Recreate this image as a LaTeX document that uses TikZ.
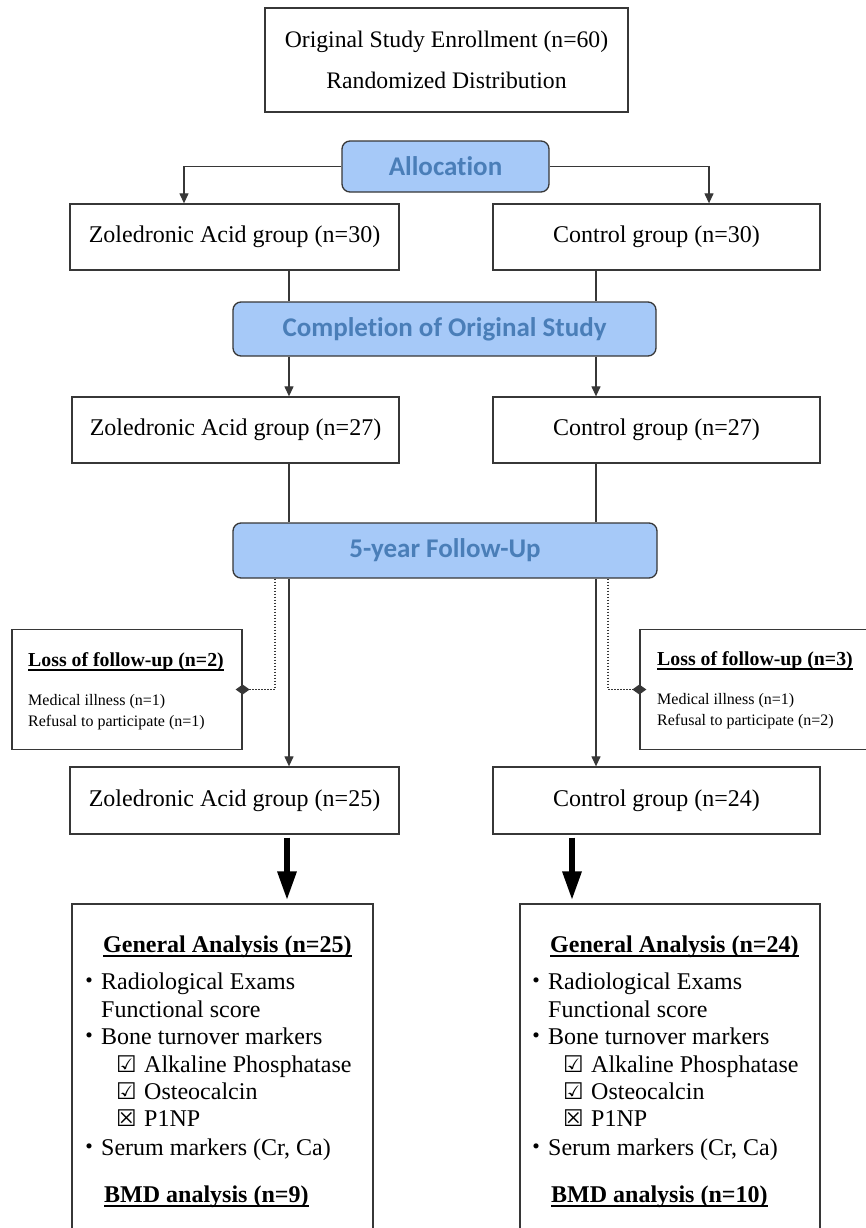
\documentclass[tikz,border=0pt]{standalone}
\usepackage{fontspec}
\setmainfont{Liberation Serif}
\newfontfamily\calibf[Ligatures=NoCommon]{Carlito}
\newfontfamily\symf{DejaVu Sans}
\newfontfamily\jpf{Noto Sans CJK JP}
\usetikzlibrary{arrows.meta}
\definecolor{phasefill}{RGB}{166,201,248}
\definecolor{phasetext}{RGB}{74,126,184}
\definecolor{edge}{RGB}{55,55,55}
\newcommand\bul{\makebox[24pt][c]{\jpf ・}}
\newcommand\chk[1]{\makebox[28pt][l]{\symf\fontsize{23}{23}\selectfont #1}}
\newcommand\ulx[1]{\setbox0\hbox{#1}\rlap{\vrule width\wd0 height -3pt depth 4.8pt}\box0}
\tikzset{
  box/.style={draw=edge, line width=1.3pt, fill=white, inner sep=0pt, align=center,
    font=\fontsize{24}{28}\selectfont},
  phase/.style={draw=edge, line width=1.3pt, fill=phasefill, rounded corners=8pt,
    text=phasetext, inner sep=0pt, font=\calibf\bfseries\fontsize{27}{30}\selectfont},
  conn/.style={line width=1.2pt, draw=edge},
  arr/.style={conn, -{Triangle[length=10pt,width=9pt]}},
  dots/.style={line width=1.6pt, draw=edge, dash pattern=on 1.6pt off 1.4pt,
    -{Diamond[length=14pt,width=10pt]}, shorten >=-7pt},
  bigarr/.style={line width=6pt, draw=black, -{Triangle[length=29pt,width=18pt]},
    shorten <=3pt, shorten >=3pt},
  ltitle/.style={anchor=base west, inner sep=0pt, font=\bfseries\fontsize{19.8}{22}\selectfont},
  lline/.style={anchor=base west, inner sep=0pt, font=\fontsize{16}{19}\selectfont},
  aline/.style={anchor=base west, inner sep=0pt, font=\fontsize{24}{28}\selectfont},
  atitle/.style={aline, font=\bfseries\fontsize{24}{28}\selectfont},
}
\newcommand\analysisblock[4]{%
  % #1 name prefix, #2 x shift, #3 general n, #4 bmd n
  \begin{scope}[xshift=#2]
    \node[atitle] (#1t) at (103,952) {\ulx{General Analysis (n=#3)}};
    \node[aline] (#1a) at (77,989) {\bul Radiological Exams};
    \node[aline] (#1b) at (101,1017) {Functional score};
    \node[aline] (#1c) at (77,1044) {\bul Bone turnover markers};
    \node[aline] (#1d) at (116,1072) {\chk{☑}Alkaline Phosphatase};
    \node[aline] (#1e) at (116,1099) {\chk{☑}Osteocalcin};
    \node[aline] (#1f) at (116,1126) {\chk{☒}P1NP};
    \node[aline] (#1g) at (77,1155) {\bul Serum markers (Cr, Ca)};
    \node[atitle] (#1h) at (104,1202) {\ulx{BMD analysis (n=#4)}};
  \end{scope}}
\begin{document}
\begin{tikzpicture}[x=1pt,y=-1pt]
\useasboundingbox (0,0) rectangle (866,1228);
\clip (0,0) rectangle (866,1228);
\fill[white] (0,0) rectangle (866,1228);

% boxes
\node[box, minimum width=363pt, minimum height=104pt, font=\fontsize{23.7}{41}\selectfont]
  (top) at (446.5,60) {Original Study Enrollment (n=60)\\Randomized Distribution};
\node[phase, minimum width=207pt, minimum height=51pt] (alloc) at (445.5,166.5) {Allocation};
\node[box, minimum width=329pt, minimum height=66pt] (z1) at (234.5,237) {Zoledronic Acid group (n=30)};
\node[box, minimum width=327pt, minimum height=66pt] (c1) at (656.5,237) {Control group (n=30)};
\node[phase, minimum width=423pt, minimum height=54pt] (comp) at (444.5,329) {Completion of Original Study};
\node[box, minimum width=327pt, minimum height=66pt] (z2) at (235.5,430) {Zoledronic Acid group (n=27)};
\node[box, minimum width=327pt, minimum height=66pt] (c2) at (656.5,430) {Control group (n=27)};
\node[phase, minimum width=424pt, minimum height=55pt] (fu) at (445,550.5) {5-year Follow-Up};
\node[box, minimum width=230pt, minimum height=120pt] (lossL) at (127,689.5) {};
\node[box, minimum width=228pt, minimum height=120pt] (lossR) at (754,689.5) {};
\node[box, minimum width=329pt, minimum height=67pt] (z3) at (234.5,800.5) {Zoledronic Acid group (n=25)};
\node[box, minimum width=327pt, minimum height=67pt] (c3) at (656.5,800.5) {Control group (n=24)};
\node[box, minimum width=301pt, minimum height=356pt] (gaL) at (222.5,1082) {};
\node[box, minimum width=300pt, minimum height=356pt] (gaR) at (670,1082) {};

% loss texts
\node[ltitle] (lossLt) at (28,666) {\ulx{Loss of follow-up (n=2)}};
\node[lline] (lossL1) at (28,705) {Medical illness (n=1)};
\node[lline] (lossL2) at (28,726) {Refusal to participate (n=1)};
\node[ltitle] (lossRt) at (657,665) {\ulx{Loss of follow-up (n=3)}};
\node[lline] (lossR1) at (657,704) {Medical illness (n=1)};
\node[lline] (lossR2) at (657,725) {Refusal to participate (n=2)};

% analysis texts
\analysisblock{gl}{0}{25}{9}
\analysisblock{gr}{447}{24}{10}

% connector columns
\coordinate (xl) at (184,0);
\coordinate (xr) at (709,0);
\coordinate (colL) at (289,0);
\coordinate (colR) at (596,0);
\coordinate (dL) at (275,0);
\coordinate (dR) at (608,0);
\coordinate (tL) at (287,0);
\coordinate (tR) at (572,0);

\draw[arr] (alloc.west) -| (z1.north -| xl);
\draw[arr] (alloc.east) -| (c1.north -| xr);
\draw[conn] (z1.south -| colL) -- (comp.north -| colL);
\draw[conn] (c1.south -| colR) -- (comp.north -| colR);
\draw[arr] (comp.south -| colL) -- (z2.north -| colL);
\draw[arr] (comp.south -| colR) -- (c2.north -| colR);
\draw[conn] (z2.south -| colL) -- (fu.north -| colL);
\draw[conn] (c2.south -| colR) -- (fu.north -| colR);
\draw[arr] (fu.south -| colL) -- (z3.north -| colL);
\draw[arr] (fu.south -| colR) -- (c3.north -| colR);
\draw[dots] (fu.south -| dL) |- (lossL.east);
\draw[dots] (fu.south -| dR) |- (lossR.west);
\draw[bigarr] (z3.south -| tL) -- (gaL.north -| tL);
\draw[bigarr] (c3.south -| tR) -- (gaR.north -| tR);
\end{tikzpicture}
\end{document}
